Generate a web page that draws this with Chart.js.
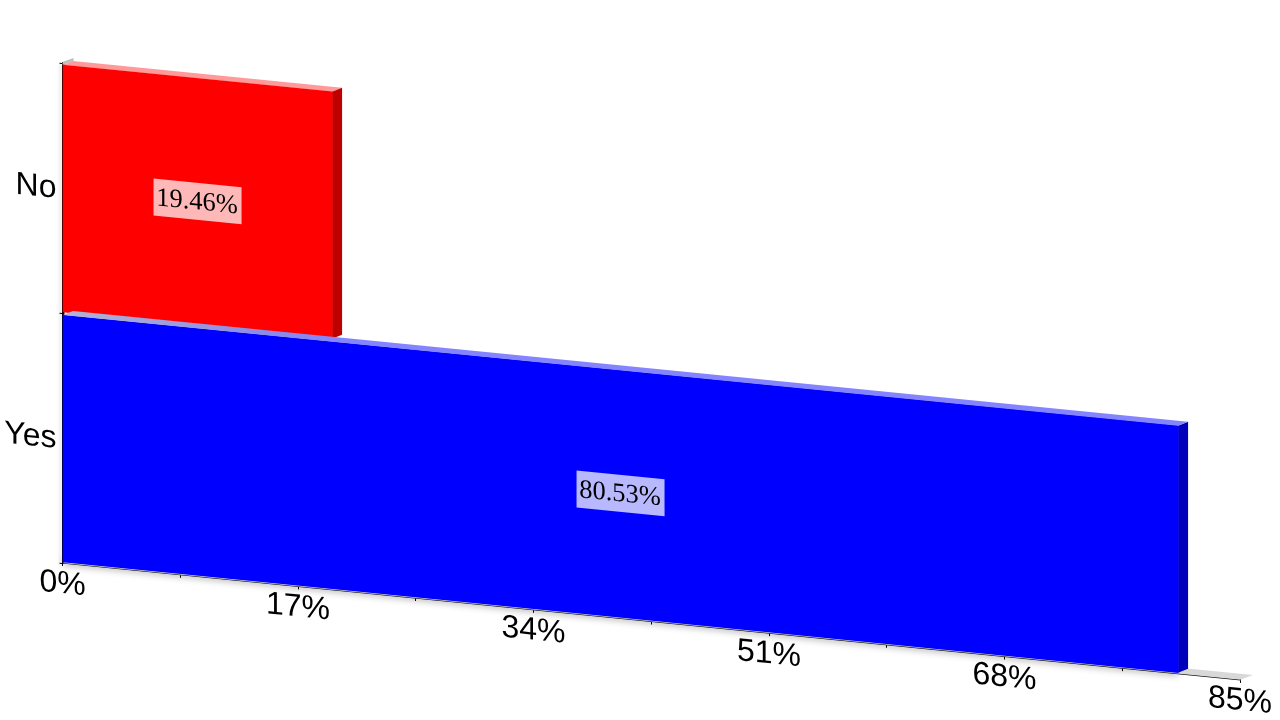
<!DOCTYPE html>
<html>
<head>
<meta charset="utf-8">
<style>html,body{margin:0;padding:0;background:#fff}canvas{display:block}</style>
<script src="https://cdn.jsdelivr.net/npm/chart.js@4"></script>
</head>
<body>
<div style="width:1280px;height:720px"><canvas id="c" width="1280" height="720"></canvas></div>
<script>
const categories = ['No', 'Yes'];
const values = [19.46, 80.53];
const frontColors = ['#ff0000', '#0000ff'];
const topColors = ['#ff9a9a', '#8484ff'];
const sideColors = ['#bf0000', '#0000bb'];
const axisMax = 85;
const axisStep = 8.5;

const SKEW = 0.0992, ORIGIN_X = 62.5, DX = 10, DY = -5, SHIFT = 0.5;

function poly(ctx, pts, fill) {
  ctx.beginPath();
  pts.forEach((p, i) => i ? ctx.lineTo(p[0], p[1]) : ctx.moveTo(p[0], p[1]));
  ctx.closePath();
  ctx.fillStyle = fill;
  ctx.fill();
}
function box(bar) {
  return { l: bar.base, r: bar.x, t: bar.y - bar.height / 2 + SHIFT, b: bar.y + bar.height / 2 + SHIFT };
}
function topFace(ctx, b, fill) {
  poly(ctx, [[b.l, b.t], [b.l + DX, b.t + DY], [b.r + DX, b.t + DY], [b.r, b.t]], fill);
}
function sideFace(ctx, b, i) {
  poly(ctx, [[b.r, b.t], [b.r + DX, b.t + DY], [b.r + DX, b.b + DY], [b.r, b.b]], sideColors[i]);
}

const skewPlugin = {
  id: 'skew',
  beforeDraw(chart) {
    const ctx = chart.ctx;
    ctx.save();
    ctx.transform(1, SKEW, 0, 1, 0, -SKEW * ORIGIN_X);
  },
  afterDraw(chart) { chart.ctx.restore(); },
  beforeDatasetsDraw(chart) {
    const ctx = chart.ctx, a = chart.chartArea, bars = chart.getDatasetMeta(0).data;
    // soft shadows under the bars and beside the axis
    ctx.save();
    ctx.shadowColor = 'rgba(0,0,0,0.3)';
    ctx.shadowBlur = 7;
    ctx.shadowOffsetY = 3;
    const b1 = box(bars[1]);
    poly(ctx, [[b1.l, b1.b - 6], [b1.r, b1.b - 6], [b1.r, b1.b], [b1.l, b1.b]], '#000');
    ctx.shadowOffsetY = 0;
    ctx.shadowOffsetX = -2;
    ctx.shadowBlur = 4;
    ctx.shadowColor = 'rgba(0,0,0,0.18)';
    poly(ctx, [[a.left, a.top], [a.left + 2, a.top], [a.left + 2, a.bottom], [a.left, a.bottom]], '#000');
    ctx.restore();
    // floor and wall edge
    poly(ctx, [[a.left, a.bottom], [a.right, a.bottom], [a.right + 13, a.bottom - 6], [a.left + 13, a.bottom - 6]], '#d8d8d8');
    poly(ctx, [[a.left, a.top - 1], [a.left + 11, a.top - 6], [a.left + 11, a.top - 3], [a.left, a.top + 2]], '#bdbdbd');
    const b0 = box(bars[0]);
    topFace(ctx, b0, topColors[0]);
    sideFace(ctx, b0, 0);
    sideFace(ctx, b1, 1);
    ctx.save();
    ctx.translate(0, SHIFT);
  },
  afterDatasetsDraw(chart) {
    const ctx = chart.ctx, bars = chart.getDatasetMeta(0).data;
    ctx.restore();
    const b1 = box(bars[1]);
    const g = ctx.createLinearGradient(b1.l, 0, bars[0].x + DX, 0);
    g.addColorStop(0, '#b4b4d4');
    g.addColorStop(0.7, '#8c8ce6');
    g.addColorStop(1, '#8484ff');
    topFace(ctx, b1, g);
    bars.forEach((bar, i) => {
      const cx = (bar.base + bar.x) / 2, cy = bar.y;
      ctx.fillStyle = 'rgba(255,255,255,0.72)';
      ctx.fillRect(cx - 44, cy - 18.5, 88, 37);
      ctx.fillStyle = '#000';
      ctx.font = '26.5px "Liberation Serif"';
      ctx.textAlign = 'center';
      ctx.textBaseline = 'middle';
      ctx.fillText(values[i].toFixed(2) + '%', cx - 0.5, cy + 1);
    });
  }
};

new Chart(document.getElementById('c'), {
  type: 'bar',
  data: {
    labels: categories,
    datasets: [{
      data: values,
      backgroundColor: frontColors,
      borderWidth: 0,
      barThickness: 247,
      clip: false
    }]
  },
  plugins: [skewPlugin],
  options: {
    indexAxis: 'y',
    responsive: false,
    animation: false,
    layout: { padding: { top: 63, right: 40 } },
    plugins: { legend: { display: false }, tooltip: { enabled: false } },
    scales: {
      x: {
        min: 0,
        max: axisMax,
        afterFit(s) { s.height = 157; },
        ticks: {
          stepSize: axisStep,
          autoSkip: false,
          maxRotation: 0,
          padding: -1,
          color: '#000',
          font: { family: '"Liberation Sans"', size: 32 },
          callback: (v, i) => (i % 2 === 0 ? Math.round(v) + '%' : '')
        },
        grid: { drawOnChartArea: false, drawTicks: true, tickLength: 3, color: '#000', lineWidth: 1 },
        border: { color: '#000', width: 1.5 }
      },
      y: {
        afterFit(s) { s.width = 62.5; },
        ticks: {
          padding: 3,
          labelOffset: 1.5,
          color: '#000',
          font: { family: '"Liberation Sans"', size: 32 }
        },
        grid: { drawOnChartArea: false, drawTicks: true, tickLength: 3, color: '#000', lineWidth: 1 },
        border: { color: '#000', width: 1.5 }
      }
    }
  }
});
</script>
</body>
</html>
